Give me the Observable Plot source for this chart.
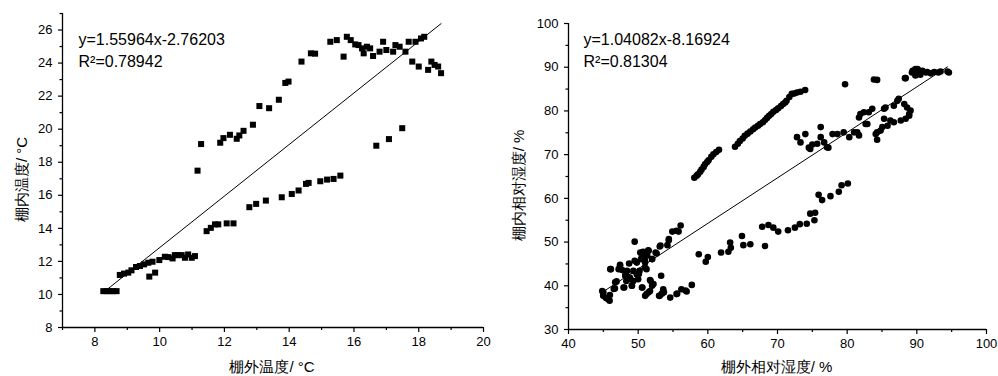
<!DOCTYPE html>
<html><head><meta charset="utf-8">
<script src="https://cdn.jsdelivr.net/npm/d3@7"></script>
<script src="https://cdn.jsdelivr.net/npm/@observablehq/plot@0.6"></script>
<style>
body{margin:0;background:#fff;}
#wrap{position:relative;width:998px;height:376px;overflow:hidden;}
#left,#right{position:absolute;top:0;}
#left{left:0;} #right{left:499px;}
svg{overflow:visible;}
</style></head><body>
<div id="wrap"><div id="left"></div><div id="right"></div></div>
<script>
// ---------- Left chart: temperature ----------
const leftX = [8.26,8.36,8.46,8.56,8.67,8.77,8.9,9.03,9.13,9.27,9.39,9.52,9.65,9.68,9.78,9.86,9.99,10.16,10.27,10.4,10.47,10.57,10.68,10.78,10.88,10.99,11.09,
  11.45,11.58,11.71,11.81,12.07,12.28,12.77,12.98,13.28,13.77,14.08,14.29,14.52,14.6,14.96,15.17,15.37,15.58,16.69,17.08,17.49,
  11.17,11.28,11.87,11.97,12.17,12.38,12.46,12.59,12.88,13.08,13.38,13.68,13.88,13.98,14.38,14.67,14.8,15.27,15.47,15.68,15.78,15.9,16.04,16.14,16.25,16.3,16.4,16.5,16.59,16.79,16.9,17.0,17.21,17.28,17.41,17.59,17.69,17.8,17.9,18.0,18.07,18.17,18.29,18.39,18.49,18.6,18.69];
const leftY = [10.2,10.2,10.2,10.2,10.2,11.18,11.26,11.32,11.46,11.66,11.72,11.82,11.92,11.08,11.98,11.32,12.08,12.28,12.26,12.18,12.38,12.38,12.38,12.22,12.42,12.22,12.32,
  13.83,14.03,14.24,14.24,14.3,14.3,15.28,15.48,15.68,15.88,16.08,16.29,16.69,16.75,16.85,16.95,16.99,17.19,19.0,19.4,20.06,
  17.49,19.1,19.18,19.46,19.66,19.42,19.62,19.9,20.27,21.4,21.27,21.78,22.8,22.88,24.09,24.59,24.57,25.29,25.39,24.39,25.59,25.39,25.13,25.09,24.89,24.59,24.99,24.89,24.43,24.69,25.29,24.79,24.69,25.09,24.99,24.69,25.29,24.09,25.29,23.79,25.49,25.59,23.59,24.09,23.89,23.79,23.39];
const leftFit = [1.55964, -2.76203];        // slope, intercept
const leftFitRange = [8.41, 18.69];
const leftXTicks = [8,10,12,14,16,18,20];
const leftXMinor = [7,9,11,13,15,17,19];
const leftYTicks = [8,10,12,14,16,18,20,22,24,26];
const leftYMinor = [9,11,13,15,17,19,21,23,25,27];
const leftEq = "y=1.55964x-2.76203";
const leftR2 = "R²=0.78942";
const leftXLabel = "棚外温度/ °C";
const leftYLabel = "棚内温度/ °C";

// ---------- Right chart: relative humidity ----------
const rightX = [44.84,44.98,45.7,45.94,46.08,46.66,46.9,47.2,47.4,47.7,48.0,48.2,48.3,48.7,48.8,49.1,49.3,49.5,49.5,49.8,50.0,50.2,50.4,50.6,50.7,50.97,50.97,51.2,51.2,51.45,51.7,51.8,52.0,52.2,52.65,53.0,53.1,53.3,53.4,53.6,54.2,54.4,54.6,54.9,55.5,55.8,56.1,56.2,56.96,57.7,
  55.5,54.4,53.2,52.5,51.5,50.55,51.0,47.4,46.0,56.8,55.6,53.7,53.1,52.0,51.5,51.0,50.55,51.7,49.1,47.9,46.7,46.5,45.0,45.4,45.9,48.15,48.9,49.3,50.1,48.4,49.8,50.3,51.3,52.0,
  58.7,59.7,60.0,61.9,62.95,63.2,63.3,64.9,65.1,66.1,67.8,68.2,68.7,69.4,70.1,71.5,72.5,73.2,74.2,74.7,75.3,75.4,75.9,76.4,77.6,78.8,79.2,80.1,
  58.06,58.4,58.6,58.9,59.1,59.4,59.6,59.9,60.1,60.5,60.8,61.2,61.6,63.9,64.3,64.6,65.0,65.3,65.7,66.1,66.5,66.8,67.2,67.5,67.9,68.2,68.5,68.8,69.1,69.4,69.8,70.1,70.5,70.8,71.1,71.3,71.7,72.05,72.4,72.8,73.3,73.97,
  72.8,73.3,74.0,74.5,74.7,75.0,75.7,76.2,76.2,76.7,77.1,77.3,77.9,78.6,79.5,79.7,80.3,81.0,81.7,81.45,81.7,81.9,82.4,82.65,82.9,83.1,83.6,83.84,84.3,84.1,84.3,84.3,84.8,85.05,85.3,85.3,85.5,85.8,86.2,86.7,86.7,87.2,87.4,87.7,88.2,88.4,88.6,88.9,89.1,88.9,88.3,88.4,89.3,89.4,89.8,89.8,90.1,90.3,90.5,90.8,91.3,91.5,92.0,92.5,93.1,93.4,94.4,94.6];
const rightY = [38.8,37.7,36.9,37.9,43.8,39.4,41.0,43.8,44.8,43.6,39.6,42.6,41.1,45.1,41.9,40.0,41.1,45.7,50.1,42.6,41.5,43.4,46.1,39.6,47.8,45.7,44.2,38.1,43.8,48.1,38.8,41.1,46.1,40.4,47.4,37.7,49.0,42.3,38.2,39.2,49.3,50.4,37.3,52.4,38.1,52.4,53.8,39.2,38.7,40.2,
  52.6,50.7,49.2,47.6,48.0,46.5,45.3,44.6,43.8,38.9,38.2,38.5,37.7,40.0,38.5,37.7,39.6,41.3,40.0,39.6,40.8,39.25,38.5,37.2,36.6,42.3,41.5,43.4,42.7,43.4,45.3,47.6,46.9,46.1,
  47.2,45.5,46.6,47.6,47.8,49.9,48.7,51.4,49.3,49.5,53.5,49.1,53.9,53.3,52.4,52.7,53.3,54.1,54.2,56.5,55.0,56.7,60.8,59.6,60.5,61.5,63.0,63.4,
  64.7,65.2,65.5,66.1,66.6,67.2,67.8,68.3,68.7,69.5,70.1,70.6,71.1,71.8,72.5,73.1,73.7,74.3,74.8,75.3,75.8,76.2,76.6,77.0,77.4,77.9,78.4,78.9,79.3,79.8,80.2,80.6,81.1,81.6,81.9,82.3,83.2,83.9,84.0,84.2,84.4,84.8,
  74.0,72.8,74.7,71.6,71.3,72.3,72.5,76.3,74.0,72.8,71.7,71.6,74.7,74.7,75.1,86.1,74.0,75.1,74.4,75.1,78.5,79.3,79.7,77.0,77.0,79.7,80.5,87.2,87.1,74.7,73.4,75.1,75.5,76.3,78.2,80.5,80.8,76.6,77.8,77.4,81.2,82.3,82.8,77.8,81.6,78.2,80.8,79.3,80.1,78.9,87.5,87.5,88.8,89.2,89.6,88.1,89.6,89.2,88.3,89.2,88.8,88.9,88.6,88.9,88.8,89.0,89.0,88.8];
const rightFit = [1.04082, -8.16924];
const rightFitRange = [45.1, 94.4];
const rightXTicks = [40,50,60,70,80,90,100];
const rightXMinor = [45,55,65,75,85,95];
const rightYTicks = [30,40,50,60,70,80,90,100];
const rightYMinor = [35,45,55,65,75,85,95];
const rightEq = "y=1.04082x-8.16924";
const rightR2 = "R²=0.81304";
const rightXLabel = "棚外相对湿度/ %";
const rightYLabel = "棚内相对湿度/ %";

const FONT = '"Liberation Sans", Arial, Helvetica, sans-serif';

function makeChart(o) {
  const idx = d3.range(o.xs.length);
  const W = 499, H = 376;
  return Plot.plot({
    width: W, height: H,
    marginLeft: o.ml, marginRight: o.mr, marginTop: o.mt, marginBottom: o.mb,
    style: {fontFamily: FONT, fontSize: "13px", color: "#000", background: "transparent"},
    x: {domain: o.xDomain, label: null},
    y: {domain: o.yDomain, label: null},
    marks: [
      Plot.axisX({ticks: o.xTicks, tickSize: 5, tickPadding: 4, tickFormat: d => String(d), label: null, strokeWidth: 1.2}),
      Plot.axisX({ticks: o.xMinor, tickSize: 3, tickFormat: () => "", label: null, strokeWidth: 1.2}),
      Plot.axisY({ticks: o.yTicks, tickSize: 4, tickPadding: 6, tickFormat: d => String(d), label: null, strokeWidth: 1.2}),
      Plot.axisY({ticks: o.yMinor, tickSize: 2.5, tickFormat: () => "", label: null, strokeWidth: 1.2}),
      Plot.ruleX([o.xDomain[0]], {stroke: "#000", strokeWidth: 1.3}),
      Plot.ruleY([o.yDomain[0]], {stroke: "#000", strokeWidth: 1.3}),
      Plot.line(o.fitRange, {x: d => d, y: d => o.fit[0] * d + o.fit[1], stroke: "#000", strokeWidth: 1}),
      Plot.dot(idx, {x: i => o.xs[i], y: i => o.ys[i], symbol: o.symbol, r: o.r, fill: "#000", stroke: "none"}),
      Plot.text([o.eq], {frameAnchor: "top-left", dx: o.tdx, dy: o.tdy1, textAnchor: "start", lineAnchor: "middle", fontSize: 16}),
      Plot.text([o.r2], {frameAnchor: "top-left", dx: o.tdx, dy: o.tdy2, textAnchor: "start", lineAnchor: "middle", fontSize: 16}),
      Plot.text([o.xLabel], {frameAnchor: "bottom", dx: o.xldx, dy: o.xldy, textAnchor: "middle", lineAnchor: "middle", fontSize: 15}),
      Plot.text([o.yLabel], {frameAnchor: "left", dx: o.yldx, dy: o.yldy, rotate: -90, textAnchor: "middle", lineAnchor: "middle", fontSize: 15})
    ]
  });
}

document.getElementById("left").append(makeChart({
  xs: leftX, ys: leftY, symbol: "square", r: 3.4,
  xDomain: [7, 20], yDomain: [8, 27],
  xTicks: leftXTicks, xMinor: leftXMinor, yTicks: leftYTicks, yMinor: leftYMinor,
  fit: leftFit, fitRange: leftFitRange, eq: leftEq, r2: leftR2,
  xLabel: leftXLabel, yLabel: leftYLabel,
  ml: 62, mr: 16, mt: 13, mb: 49,
  tdx: 16, tdy1: 26, tdy2: 48,
  xldx: -1, xldy: 40, yldx: -40, yldy: 9
}));

document.getElementById("right").append(makeChart({
  xs: rightX, ys: rightY, symbol: "circle", r: 3.3,
  xDomain: [40, 100], yDomain: [30, 100],
  xTicks: rightXTicks, xMinor: rightXMinor, yTicks: rightYTicks, yMinor: rightYMinor,
  fit: rightFit, fitRange: rightFitRange, eq: rightEq, r2: rightR2,
  xLabel: rightXLabel, yLabel: rightYLabel,
  ml: 69, mr: 12, mt: 23, mb: 47,
  tdx: 15, tdy1: 16, tdy2: 38,
  xldx: -1, xldy: 38, yldx: -49, yldy: 9
}));
</script>
</body></html>
